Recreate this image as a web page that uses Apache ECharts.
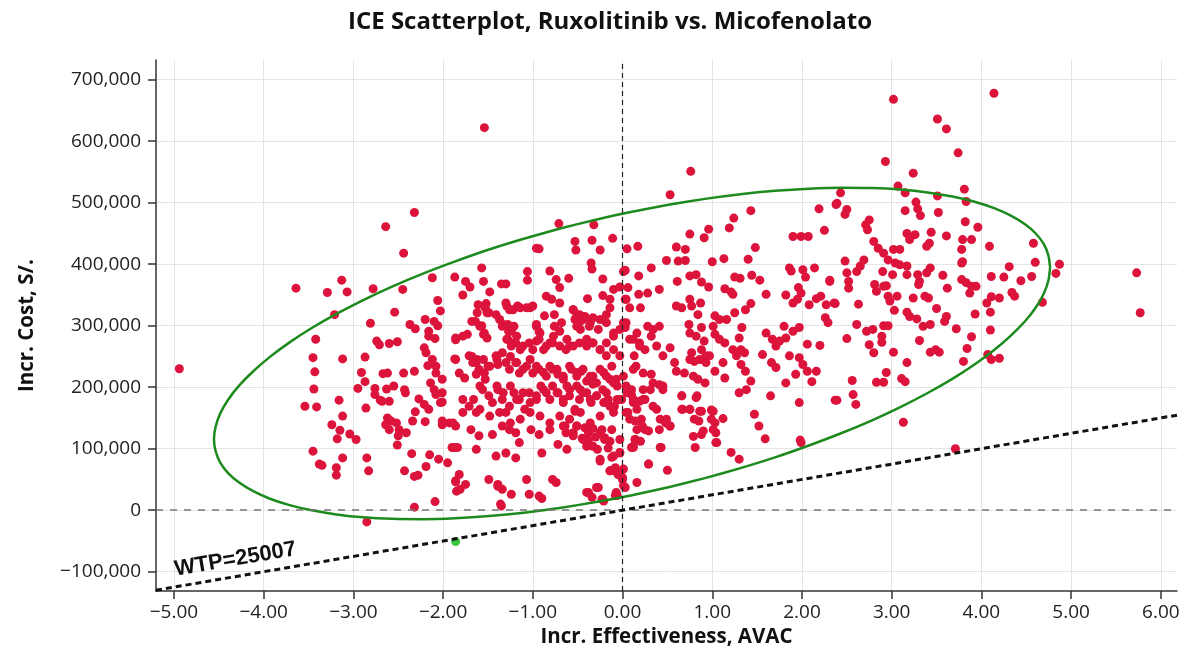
<!DOCTYPE html>
<html>
<head>
<meta charset="utf-8">
<script src="https://cdn.jsdelivr.net/npm/echarts@6/dist/echarts.min.js"></script>
<style>
  html, body { margin: 0; padding: 0; background: #fff; }
  #chart { width: 1191px; height: 653px; }
</style>
</head>
<body>
<div id="chart"></div>
<script>
// values: [incr. effectiveness (AVAC), incr. cost (thousand S/.)]
const wtp = 25007
const xTicks = [-5, -4, -3, -2, -1, 0, 1, 2, 3, 4, 5, 6]
const yTicks = [-100000, 0, 100000, 200000, 300000, 400000, 500000, 600000, 700000]

const leftPts = [
  [-2.32,484],[-2.64,461],[-2.44,418],[-4.94,230],[-3.64,361],[-3.29,354],[-3.13,374],[-3.07,355],[-2.78,360],[-2.45,359],
  [-2.12,378],[-1.87,379],[-2.06,341],[-2.03,324],[-3.21,318],[-2.54,322],[-2.81,304],[-2.37,302],[-2.31,295],[-2.20,310],
  [-2.10,307],[-2.06,300],[-2.16,291],[-2.16,283],[-2.09,279],[-1.86,277],[-3.42,278],[-2.74,275],[-2.71,269],[-2.60,271],
  [-2.51,274],[-2.21,264],[-2.19,256],[-2.12,245],[-2.08,234],[-2.08,223],[-2.14,207],[-2.10,196],[-2.08,188],[-2.17,235],
  [-1.87,246],[-3.45,248],[-3.12,246],[-2.87,249],[-3.43,225],[-2.91,224],[-2.67,222],[-2.62,223],[-2.44,223],[-2.32,226],
  [-2.87,209],[-2.95,198],[-2.76,198],[-2.63,197],[-2.55,202],[-2.43,196],[-2.42,191],[-3.44,197],[-2.76,188],[-2.70,179],
  [-2.68,177],[-2.60,177],[-3.16,179],[-3.54,169],[-3.41,168],[-2.86,166],[-2.27,181],[-2.21,172],[-2.16,164],[-2.01,176],
  [-2.31,160],[-2.34,145],[-2.20,144],[-2.62,150],[-2.58,145],[-2.52,142],[-2.64,139],[-2.60,131],[-2.49,131],[-2.41,126],
  [-2.50,121],[-2.51,106],[-3.12,153],[-3.24,139],[-3.15,130],[-3.04,124],[-2.97,115],[-3.18,116],[-2.01,139],[-1.89,142],
  [-1.87,102],[-3.45,96],[-3.12,85],[-2.85,85],[-2.35,92],[-2.15,90],[-2.05,83],[-1.95,77],[-2.19,71],[-3.38,75],
  [-3.35,73],[-3.19,69],[-3.19,57],[-2.83,64],[-2.43,64],[-2.32,55],[-2.28,57],[-1.86,46],[-1.85,31],[-2.09,14],
  [-2.32,5],[-2.85,-19]
]

const centerPts = [
  [-1.54,622],[-0.71,466],[-0.32,464],[-0.53,437],[-0.52,423],[-0.34,439],[-0.11,442],[-0.25,423],[-0.96,426],[-0.93,425],
  [-1.57,394],[-1.75,372],[-1.70,363],[-1.78,350],[-1.55,372],[-1.48,355],[-1.35,368],[-1.30,368],[-1.06,388],[-1.06,374],
  [-0.81,389],[-0.74,375],[-0.70,362],[-0.60,377],[-0.35,402],[-0.34,392],[-0.22,376],[-0.39,344],[-0.85,348],[-0.79,343],
  [-0.70,337],[-0.22,349],[-0.14,343],[-0.10,359],[-0.03,363],[-1.52,336],[-1.30,337],[-1.26,326],[-1.17,332],[-1.07,329],
  [-1.00,332],[-1.62,321],[-1.49,321],[-1.41,318],[-1.68,307],[-1.57,300],[-1.54,288],[-1.37,310],[-1.34,299],[-1.28,302],
  [-1.24,291],[-1.21,299],[-1.86,280],[-1.78,283],[-1.73,286],[-0.96,299],[-0.93,290],[-0.87,316],[-0.76,318],[-0.76,299],
  [-0.68,305],[-0.55,326],[-0.53,310],[-0.48,318],[-0.51,299],[-0.44,310],[-0.37,299],[-0.27,294],[-0.18,305],[-0.10,288],
  [-0.03,294],[-1.28,278],[-1.24,267],[-1.19,272],[-1.11,267],[-1.04,272],[-1.00,261],[-0.93,278],[-0.85,267],[-0.78,272],
  [-0.70,267],[-0.63,261],[-0.55,267],[-0.48,272],[-0.40,267],[-0.33,272],[-0.25,261],[-0.18,251],[-0.10,261],[-0.03,251],
  [-1.86,245],[-1.82,223],[-1.76,215],[-1.71,251],[-1.67,240],[-1.62,245],[-1.60,229],[-1.54,223],[-1.50,234],[-1.41,251],
  [-1.39,237],[-1.34,256],[-1.30,240],[-1.26,229],[-1.19,240],[-1.15,223],[-1.07,234],[-1.00,223],[-0.93,229],[-0.85,218],
  [-0.78,229],[-0.72,221],[-0.66,213],[-0.57,229],[-0.51,218],[-0.46,226],[-0.40,210],[-0.33,218],[-0.25,229],[-0.18,218],
  [-0.12,234],[-0.07,213],[-2.01,213],[-2.01,191],[-2.03,175],[-1.78,180],[-1.71,169],[-1.63,159],[-1.78,159],[-1.56,196],
  [-1.49,186],[-1.45,175],[-1.39,196],[-1.34,180],[-1.30,159],[-1.26,169],[-1.21,191],[-1.15,180],[-1.09,164],[-1.04,191],
  [-0.96,180],[-0.91,202],[-0.85,191],[-0.78,202],[-0.72,191],[-0.66,180],[-0.59,196],[-0.53,164],[-0.48,180],[-0.40,191],
  [-0.35,175],[-0.29,186],[-0.22,196],[-0.16,180],[-0.09,169],[-0.01,180],[-2.01,145],[-1.93,142],[-1.86,137],[-1.69,131],
  [-1.60,121],[-1.45,123],[-1.34,137],[-1.26,131],[-1.19,126],[-1.15,110],[-1.02,131],[-0.93,123],[-0.90,93],[-0.81,131],
  [-0.72,107],[-0.66,137],[-0.55,126],[-0.51,137],[-0.44,115],[-0.38,126],[-0.33,104],[-0.25,126],[-0.20,115],[-0.12,131],
  [-0.03,115],[-0.10,88],[-0.03,93],[-0.25,80],[-1.90,102],[-1.84,102],[-1.63,99],[-1.41,88],[-1.30,93],[-1.19,85],
  [-1.04,26],[-1.82,58],[-1.86,48],[-1.75,42],[-1.81,34],[-1.49,50],[-1.39,42],[-1.34,34],[-1.24,26],[-1.36,10],
  [-1.07,50],[-0.93,23],[-0.78,50],[-0.74,45],[-0.38,29],[-0.27,37],[-0.14,64],[-0.09,64],[-0.07,29],[0.00,53],
  [0.01,40],[-0.22,18],[-1.35,7],[-1.39,39],[-0.90,19],[-0.21,15],[-0.06,24],[-0.08,69],[0.06,362],[0.18,351],
  [0.03,343],[0.04,305],[0.12,278],[0.19,267],[0.13,251],[0.15,234],[0.04,202],[0.12,180],[0.04,159],[0.12,104],
  [0.16,131],[0.16,45]
]

// extra marks from the densest part of the cloud
const densePts = [
  [-1.25,250],[-1.18,240],[-1.11,229],[-1.03,245],[-0.96,234],[-0.88,224],[-0.81,234],[-0.73,229],[-0.66,218],[-0.59,234],
  [-0.51,224],[-0.44,229],[-0.36,218],[-0.29,207],[-0.21,224],[-0.14,213],[-0.06,202],[0.01,218],[-1.68,250],[-1.63,240],
  [-1.55,245],[-1.48,234],[-1.40,245],[-1.63,221],[-1.53,213],[-1.59,202],[-1.40,202],[-1.33,191],[-1.25,202],[-1.18,180],
  [-1.11,191],[-1.03,175],[-0.96,186],[-0.88,196],[-0.81,180],[-0.73,191],[-0.66,175],[-0.59,186],[-0.51,202],[-0.44,191],
  [-0.36,180],[-0.29,186],[-0.21,175],[-0.14,169],[-0.06,180],[-1.66,180],[-1.59,164],[-1.48,153],[-1.37,159],[-1.25,142],
  [-1.14,148],[-1.03,159],[-0.92,153],[-0.81,142],[-0.70,153],[-0.59,148],[-0.47,159],[-0.36,142],[-0.25,153],[-0.10,159],
  [-1.64,307],[-1.59,299],[-1.55,286],[-1.51,280],[-1.33,302],[-1.27,291],[-1.29,278],[-1.22,272],[-1.18,283],[-1.14,261],
  [-0.96,302],[-0.92,288],[-0.96,275],[-0.88,261],[-0.81,272],[-0.77,283],[-0.70,291],[-0.62,278],[-0.59,267],[-0.55,326],
  [-0.51,318],[-0.47,307],[-0.42,315],[-0.36,305],[-0.33,313],[-0.25,310],[-0.18,318],[-0.14,329],[-0.47,294],[-0.40,278],
  [-0.33,272],[-0.25,261],[-0.18,272],[-0.10,283],[-1.61,334],[-1.53,329],[-1.51,321],[-1.29,332],[-1.22,326],[-1.14,329],
  [-1.03,329],[0.01,388],[-0.53,161],[-0.64,137],[-0.63,126],[-0.62,99],[-0.51,137],[-0.42,134],[-0.33,133],[-0.23,131],
  [-0.55,121],[-0.45,117],[-0.38,114],[-0.30,119],[-0.20,118],[-0.14,112],[-0.40,104],[-0.28,99],[-0.16,101],[-0.25,83],
  [-0.12,86],[-0.03,94],[-0.14,64],[-0.05,58],[-0.01,54],[0.03,37],[-0.29,37],[-0.40,29],[-0.34,21],[-0.23,18],
  [-0.08,24],[0.29,75],[0.42,102],[0.10,102],[0.14,115],[0.20,112],[0.08,148],[0.14,145],[0.22,137],[0.29,129],
  [0.42,148],[0.48,142],[0.53,137],[0.66,186],[0.83,186],[0.66,164],[0.75,164],[0.86,161],[1.01,161],[1.03,142],
  [0.90,129],[1.05,110],[-0.62,202],[-0.47,196],[-0.33,205],[-0.18,191],[-0.10,207],[-0.03,180],[0.05,191],[0.12,175],
  [0.23,180],[0.31,196],[0.38,164],[0.45,202]
]

const rightPts = [
  [0.76,551],[0.53,513],[1.43,487],[1.24,475],[1.19,459],[0.96,457],[0.91,443],[0.75,449],[2.19,490],[2.38,497],
  [2.25,455],[1.90,445],[1.99,445],[2.07,445],[1.48,427],[0.05,425],[0.17,429],[0.60,428],[0.70,424],[0.49,406],
  [0.62,405],[0.70,406],[1.00,404],[1.13,409],[1.40,408],[1.86,394],[1.88,389],[2.01,391],[2.14,394],[2.31,374],
  [0.03,390],[0.32,394],[0.18,381],[0.75,381],[0.82,383],[0.88,371],[0.96,363],[0.61,372],[1.25,379],[1.31,377],
  [1.44,382],[1.53,374],[2.04,379],[0.41,359],[0.28,353],[1.14,360],[1.21,355],[1.23,351],[1.60,351],[1.82,350],
  [1.96,362],[1.99,353],[2.16,344],[2.21,348],[0.04,343],[0.08,329],[0.20,329],[0.60,332],[0.66,329],[0.75,343],
  [0.77,332],[0.84,318],[0.87,337],[1.03,316],[1.08,310],[1.16,310],[1.25,321],[1.37,326],[1.43,336],[1.90,337],
  [1.95,343],[2.08,334],[2.27,334],[2.36,337],[2.26,313],[2.29,305],[0.01,305],[0.03,297],[0.16,288],[0.28,299],
  [0.34,294],[0.41,299],[0.08,278],[0.19,272],[0.25,261],[0.32,283],[0.38,267],[0.45,251],[0.53,264],[0.74,302],
  [0.75,288],[0.82,283],[0.88,297],[0.91,275],[1.01,299],[1.03,286],[1.08,278],[1.14,272],[0.88,261],[0.93,251],
  [0.77,256],[0.80,242],[0.86,245],[0.93,240],[0.97,251],[1.33,297],[1.30,280],[1.23,261],[1.32,261],[1.36,256],
  [1.37,226],[1.32,237],[1.27,251],[1.60,288],[1.67,278],[1.71,267],[1.75,275],[1.82,280],[1.90,291],[1.97,297],
  [1.80,299],[2.06,270],[2.20,268],[1.56,253],[1.66,240],[1.71,232],[1.86,251],[1.97,248],[2.01,237],[2.06,226],
  [2.16,226],[1.93,221],[1.82,207],[2.11,209],[1.43,210],[1.38,196],[1.30,191],[0.58,240],[0.60,226],[0.69,223],
  [0.75,245],[0.79,218],[0.84,213],[0.92,207],[1.03,226],[1.12,240],[1.14,215],[0.12,229],[0.23,223],[0.32,221],
  [0.34,207],[0.41,204],[0.45,196],[0.10,196],[0.10,188],[0.23,196],[0.25,180],[0.34,169],[0.19,177],[0.06,159],
  [0.16,164],[0.21,148],[0.25,131],[0.14,115],[0.12,102],[0.41,131],[0.49,148],[0.53,137],[0.43,102],[0.66,186],
  [0.82,183],[0.67,164],[0.75,164],[0.88,161],[0.99,163],[0.80,148],[0.85,145],[0.99,148],[1.12,149],[1.01,131],
  [1.04,126],[0.79,120],[0.88,123],[1.04,110],[0.81,102],[1.21,94],[1.30,83],[1.47,156],[1.52,137],[1.59,116],
  [1.65,186],[1.97,175],[1.98,114],[1.99,110],[2.37,179],[0.29,75],[0.50,65],[0.01,67],[0.00,50]
]

const farPts = [
  [3.02,668],[4.14,678],[3.51,636],[3.61,620],[2.93,567],[3.74,581],[3.24,548],[3.07,527],[3.15,516],[2.43,516],
  [3.81,522],[3.83,502],[3.51,511],[2.39,499],[2.50,489],[2.48,481],[3.27,501],[3.29,490],[3.32,479],[3.15,487],
  [3.52,484],[2.75,472],[2.71,464],[2.73,456],[3.82,469],[3.96,460],[3.17,450],[3.20,440],[3.26,448],[3.44,452],
  [3.61,446],[3.39,429],[3.42,434],[3.79,440],[3.89,440],[3.78,424],[4.09,429],[2.80,437],[2.85,426],[2.91,418],
  [3.02,424],[3.09,424],[2.96,407],[3.04,402],[3.09,399],[3.17,397],[2.69,407],[2.65,397],[2.61,388],[2.48,405],
  [2.50,386],[2.52,372],[2.52,361],[2.31,372],[2.90,388],[3.01,383],[3.17,383],[3.29,383],[3.31,372],[3.30,367],
  [3.39,386],[3.43,394],[3.57,382],[3.62,361],[3.78,402],[3.79,404],[3.78,375],[3.83,370],[3.89,364],[3.87,353],
  [3.94,364],[4.11,380],[4.25,379],[4.31,396],[4.44,373],[4.56,380],[4.60,403],[4.58,434],[4.87,400],[4.83,385],
  [4.68,338],[4.34,354],[4.37,348],[4.20,345],[4.11,347],[4.06,337],[4.10,322],[3.93,319],[4.10,293],[2.37,336],
  [2.63,335],[2.81,367],[2.83,356],[2.91,364],[2.94,365],[2.96,348],[2.98,340],[3.06,348],[3.03,325],[3.17,322],
  [3.20,315],[3.24,345],[3.37,348],[3.41,345],[3.50,328],[3.61,315],[3.59,307],[3.72,295],[3.28,311],[3.35,299],
  [3.43,302],[3.89,282],[3.84,263],[3.80,242],[4.07,253],[4.11,245],[4.20,247],[2.61,302],[2.72,291],[2.79,294],
  [2.91,300],[2.96,300],[2.89,283],[2.89,273],[2.75,269],[2.80,256],[2.50,279],[3.02,257],[3.31,276],[3.43,257],
  [3.49,261],[3.53,257],[3.17,240],[2.94,224],[2.83,208],[2.91,208],[3.11,214],[3.15,209],[2.56,211],[2.57,188],
  [2.60,172],[2.39,179],[3.13,143],[3.71,100],[5.73,386],[5.77,321]
]

const greenPts = [[-1.86,-51]]

// confidence ellipse, traced round from its right end
const ellipsePts = [
  [4.766,394.5],[4.747,414.0],[4.696,432.5],[4.608,449.5],[4.486,464.9],[4.328,478.9],[4.142,491.1],[3.923,501.5],
  [3.676,510.0],[3.401,516.6],[3.102,521.3],[2.781,523.8],[2.436,524.3],[2.077,522.8],[1.700,519.3],[1.313,513.8],
  [0.917,506.2],[0.511,496.6],[0.106,485.4],[-0.299,472.4],[-0.705,457.6],[-1.101,441.4],[-1.488,423.9],[-1.865,404.6],
  [-2.224,384.7],[-2.569,363.6],[-2.890,341.7],[-3.189,319.2],[-3.464,296.2],[-3.711,272.9],[-3.930,249.3],[-4.116,225.9],
  [-4.274,202.5],[-4.396,179.7],[-4.484,157.5],[-4.535,136.0],[-4.554,115.3],[-4.535,95.8],[-4.484,77.3],[-4.396,60.3],
  [-4.274,44.9],[-4.116,30.9],[-3.930,18.7],[-3.711,8.3],[-3.464,-0.2],[-3.189,-6.8],[-2.890,-11.5],[-2.569,-14.0],
  [-2.224,-14.5],[-1.865,-13.0],[-1.488,-9.5],[-1.101,-4.0],[-0.705,3.6],[-0.299,13.2],[0.106,24.4],[0.511,37.4],
  [0.917,52.2],[1.313,68.4],[1.700,85.9],[2.077,105.2],[2.436,125.1],[2.781,146.2],[3.102,168.1],[3.401,190.6],
  [3.676,213.6],[3.923,236.9],[4.142,260.5],[4.328,283.9],[4.486,307.3],[4.608,330.1],[4.696,352.3],[4.747,373.8],
  [4.766,394.5]
]

const xMin = -5.2
const xMax = 6.18
const yMin = -131500
const yMax = 732000

const toCost = pts => pts.map(p => [p[0], p[1] * 1000])
const minus = s => s.replace('-', '\u2212')
const font = 'Open Sans'

const chart = echarts.init(document.getElementById('chart'))
chart.setOption({
  animation: false,
  title: {
    text: 'ICE Scatterplot, Ruxolitinib vs. Micofenolato',
    left: 605,
    top: 5,
    textAlign: 'center',
    textStyle: {fontFamily: font, fontSize: 24, fontWeight: 'bold', color: '#111'}
  },
  grid: {left: 156, right: 14, top: 60, bottom: 61},
  xAxis: {
    type: 'value',
    min: xMin,
    max: xMax,
    name: 'Incr. Effectiveness, AVAC',
    nameLocation: 'middle',
    nameGap: 33,
    nameTextStyle: {fontFamily: font, fontSize: 20.5, fontWeight: 'bold', color: '#111'},
    axisLine: {show: true, onZero: false, lineStyle: {color: '#333', width: 1.5}},
    axisTick: {show: true, length: 8, customValues: xTicks, lineStyle: {color: '#333', width: 1.5}},
    axisLabel: {
      customValues: xTicks,
      margin: 12,
      fontFamily: font,
      fontSize: 19,
      color: '#222',
      formatter: v => minus(v.toFixed(2))
    },
    splitLine: {show: true, lineStyle: {color: '#e4e4e4', width: 1}}
  },
  yAxis: {
    type: 'value',
    min: yMin,
    max: yMax,
    name: 'Incr. Cost, S/.',
    nameLocation: 'middle',
    nameGap: 118,
    nameTextStyle: {fontFamily: font, fontSize: 20.5, fontWeight: 'bold', color: '#111'},
    axisLine: {show: true, onZero: false, lineStyle: {color: '#333', width: 1.5}},
    axisTick: {show: true, length: 8, customValues: yTicks, lineStyle: {color: '#333', width: 1.5}},
    axisLabel: {
      customValues: yTicks,
      margin: 15,
      fontFamily: font,
      fontSize: 19,
      color: '#222',
      formatter: v => minus(v.toLocaleString('en-US'))
    },
    splitLine: {show: true, lineStyle: {color: '#e4e4e4', width: 1}}
  },
  series: [
    {
      name: 'not cost-effective',
      type: 'scatter',
      symbolSize: 9,
      itemStyle: {color: '#dc143c', opacity: 1},
      data: toCost([].concat(leftPts, centerPts, densePts, rightPts, farPts)),
      markLine: {
        silent: true,
        symbol: 'none',
        label: {show: false},
        data: [
          {xAxis: 0, lineStyle: {color: '#222', type: [5, 4], width: 1.2}},
          {yAxis: 0, lineStyle: {color: '#777', type: [7, 7], width: 1.5}}
        ]
      }
    },
    {
      name: 'cost-effective',
      type: 'scatter',
      symbolSize: 9,
      z: 2,
      itemStyle: {color: '#3cc83c', opacity: 1},
      data: toCost(greenPts)
    },
    {
      name: 'ellipse',
      type: 'line',
      smooth: 0.2,
      showSymbol: false,
      silent: true,
      z: 3,
      lineStyle: {color: '#1c8a1c', width: 2.5},
      data: toCost(ellipsePts)
    },
    {
      name: 'WTP',
      type: 'line',
      data: [],
      z: 4,
      markLine: {
        silent: true,
        symbol: 'none',
        lineStyle: {color: '#111', type: [6, 4], width: 3},
        label: {
          show: true,
          position: 'insideStartTop',
          distance: [22, 6],
          formatter: 'WTP=' + wtp,
          fontFamily: 'Liberation Sans',
          fontWeight: 'bold',
          fontSize: 22,
          color: '#111'
        },
        data: [[{coord: [xMin, wtp * xMin]}, {coord: [xMax, wtp * xMax]}]]
      }
    }
  ]
})
</script>
</body>
</html>
